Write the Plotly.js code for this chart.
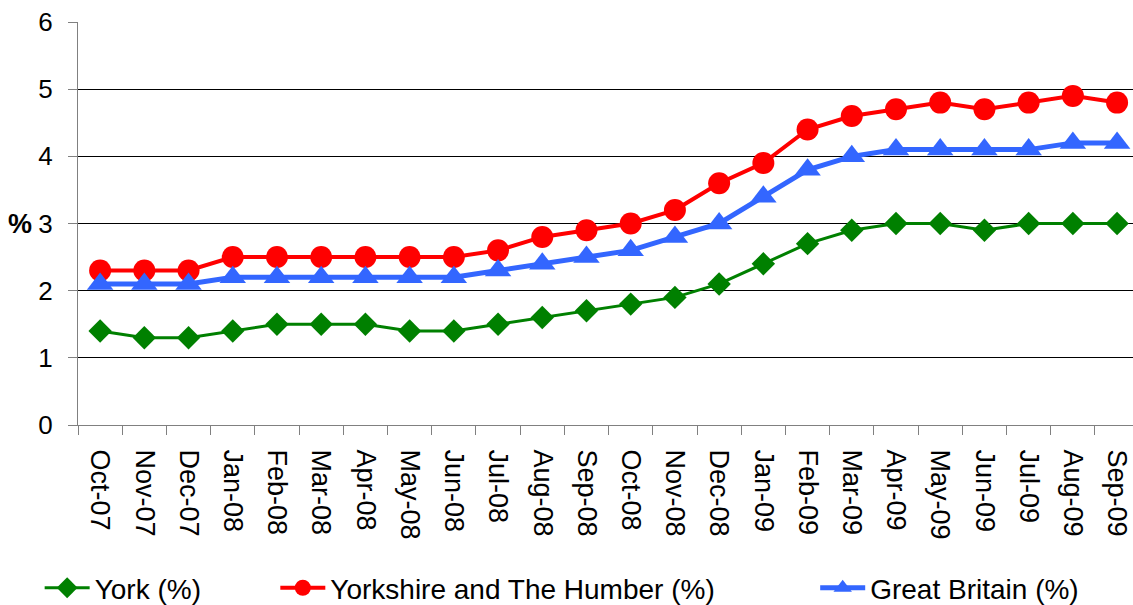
<!DOCTYPE html>
<html>
<head>
<meta charset="utf-8">
<script src="https://cdn.plot.ly/plotly-3.0.1.min.js"></script>
<style>html,body{margin:0;padding:0;background:#fff;}#chart{width:1133px;height:605px;}</style>
</head>
<body>
<div id="chart"></div>
<script>
var months = ["Oct-07","Nov-07","Dec-07","Jan-08","Feb-08","Mar-08","Apr-08","May-08","Jun-08","Jul-08","Aug-08","Sep-08","Oct-08","Nov-08","Dec-08","Jan-09","Feb-09","Mar-09","Apr-09","May-09","Jun-09","Jul-09","Aug-09","Sep-09"];
var york = [1.4,1.3,1.3,1.4,1.5,1.5,1.5,1.4,1.4,1.5,1.6,1.7,1.8,1.9,2.1,2.4,2.7,2.9,3.0,3.0,2.9,3.0,3.0,3.0];
var yorkshire = [2.3,2.3,2.3,2.5,2.5,2.5,2.5,2.5,2.5,2.6,2.8,2.9,3.0,3.2,3.6,3.9,4.4,4.6,4.7,4.8,4.7,4.8,4.9,4.8];
var gb = [2.1,2.1,2.1,2.2,2.2,2.2,2.2,2.2,2.2,2.3,2.4,2.5,2.6,2.8,3.0,3.4,3.8,4.0,4.1,4.1,4.1,4.1,4.2,4.2];
var yTicks = [0,1,2,3,4,5,6];

var FONT = "Liberation Sans, Arial, sans-serif";

var traces = [
  {x: months, y: york, name: "York (%)", type: "scatter", mode: "lines+markers",
   line: {color: "#008000", width: 3}, marker: {symbol: "diamond", size: 18, color: "#008000"}, legend: "legend"},
  {x: months, y: yorkshire, name: "Yorkshire and The Humber (%)", type: "scatter", mode: "lines+markers",
   line: {color: "#FF0000", width: 4}, marker: {symbol: "circle", size: 22, color: "#FF0000"}, legend: "legend2"},
  {x: months, y: gb, name: "Great Britain (%)", type: "scatter", mode: "lines+markers",
   line: {color: "#3366FF", width: 5}, marker: {symbol: "triangle-up", size: 23, color: "#3366FF"}, legend: "legend3"}
];

function leg(x) {
  return {xref: "container", yref: "container", x: x, y: 0.028, xanchor: "left", yanchor: "middle",
    orientation: "h", font: {family: FONT, size: 28, color: "#000"}, itemwidth: 45, bgcolor: "rgba(0,0,0,0)"};
}

var layout = {
  width: 1133, height: 605,
  margin: {l: 78, r: 0, t: 22, b: 180, pad: 0},
  paper_bgcolor: "#fff", plot_bgcolor: "#fff",
  font: {family: FONT, color: "#000"},
  showlegend: true,
  xaxis: {
    type: "category", range: [-0.5, 23.36], tickson: "boundaries",
    ticks: "outside", ticklen: 9, tickcolor: "#808080", tickwidth: 1,
    tickangle: 90, tickfont: {family: FONT, size: 27, color: "#000"},
    showline: true, linecolor: "#808080", linewidth: 1, showgrid: false, zeroline: false,
    ticklabelstandoff: 18, fixedrange: true
  },
  yaxis: {
    range: [0, 6], tickvals: yTicks, ticks: "outside", ticklen: 9, tickcolor: "#808080",
    tickfont: {family: FONT, size: 26, color: "#000"},
    showline: true, linecolor: "#808080", linewidth: 1,
    showgrid: true, gridcolor: "#000", gridwidth: 1, zeroline: false, ticklabelstandoff: 10
  },
  legend: leg(0.035),
  legend2: leg(0.243),
  legend3: leg(0.7195),
  annotations: [{text: "<b>%</b>", xref: "paper", yref: "y", x: 0, y: 3, xanchor: "right", xshift: -44,
    showarrow: false, font: {family: FONT, size: 27, color: "#000"}}]
};

Plotly.newPlot("chart", traces, layout, {displayModeBar: false, staticPlot: true});
</script>
</body>
</html>
